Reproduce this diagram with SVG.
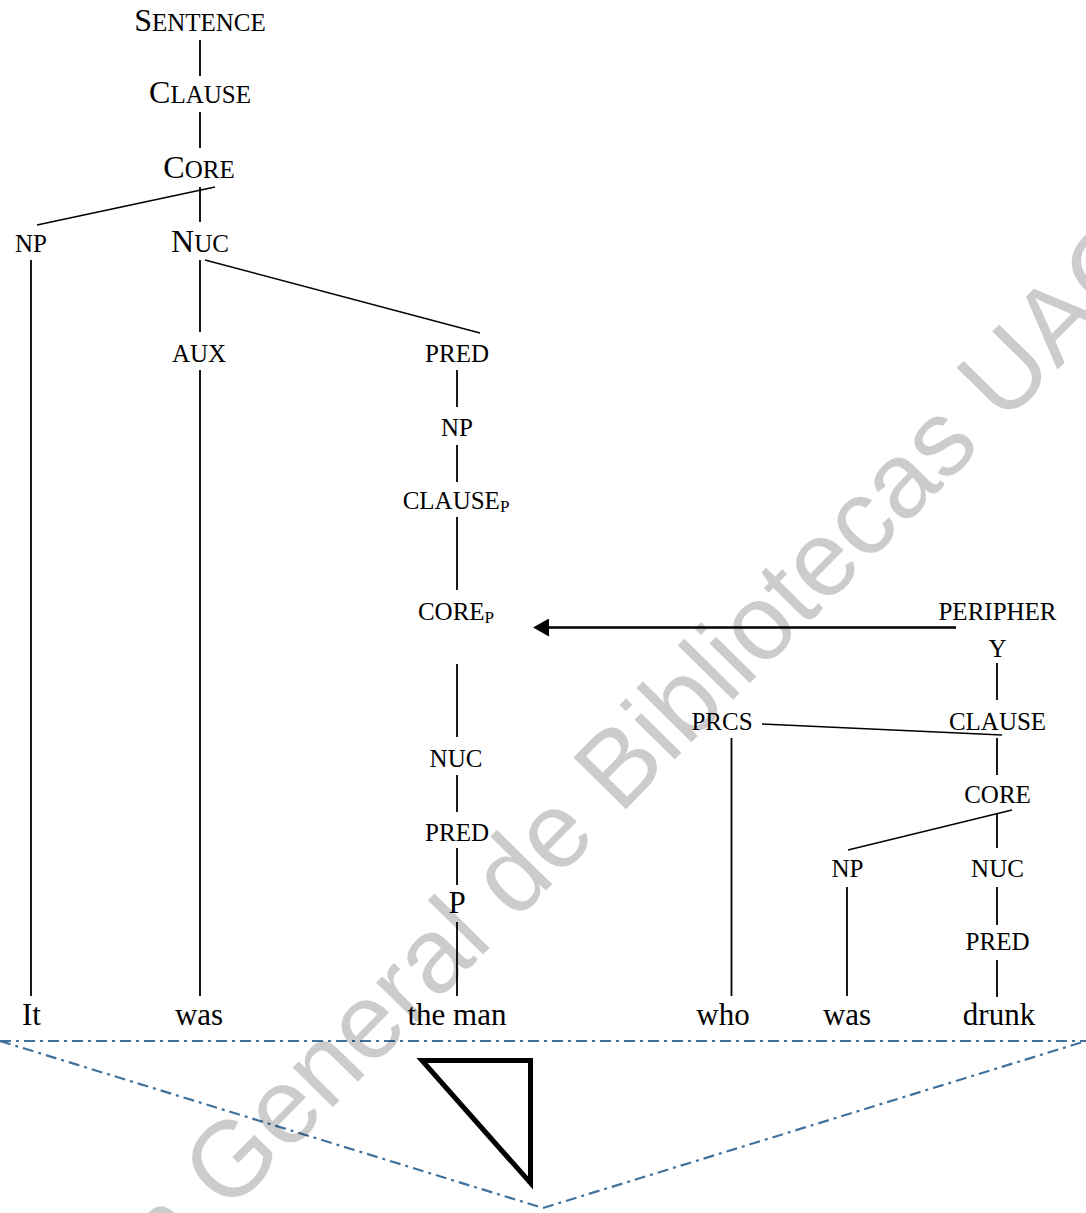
<svg xmlns="http://www.w3.org/2000/svg" width="1086" height="1213" viewBox="0 0 1086 1213">
  <style>
    .lbl { font-family: "Liberation Serif", "Times New Roman", serif; font-size: 25px; text-anchor: middle; fill: #000; }
    .big { font-size: 32px; }
    .word { font-size: 31px; }
    .sub { font-size: 17px; }
    .edge { stroke: #000; stroke-width: 1.8; fill: none; }
    .diag { stroke: #000; stroke-width: 1.4; fill: none; }
    .arrow { stroke: #000; stroke-width: 2.5; fill: none; }
    .frame { stroke: #41719C; stroke-width: 2.2; fill: none; stroke-dasharray: 11 5 3 5; }
    .wm { font-family: "Liberation Sans", Arial, sans-serif; font-size: 107px; fill: #000; fill-opacity: 0.2; }
  </style>
  <defs>
    <marker id="ah" markerUnits="userSpaceOnUse" markerWidth="16" markerHeight="18" refX="4" refY="9" orient="auto">
      <path d="M0,0 L16,9 L0,18 Z" fill="#000"/>
    </marker>
  </defs>
  <rect x="0" y="0" width="1086" height="1213" fill="#fff"/>

  <!-- connectors -->
  <g id="connectors">
    <line class="edge" x1="200" y1="40" x2="200" y2="76"/>
    <line class="edge" x1="200" y1="112" x2="200" y2="148"/>
    <line class="edge" x1="200" y1="187" x2="200" y2="222"/>
    <line class="diag" x1="215" y1="187" x2="37" y2="225"/>
    <line class="edge" x1="31" y1="260" x2="31" y2="996"/>
    <line class="edge" x1="200" y1="260" x2="200" y2="332"/>
    <line class="diag" x1="205" y1="260" x2="480" y2="333"/>
    <line class="edge" x1="200" y1="370" x2="200" y2="996"/>
    <line class="edge" x1="457" y1="370" x2="457" y2="407"/>
    <line class="edge" x1="457" y1="445" x2="457" y2="482"/>
    <line class="edge" x1="457" y1="517" x2="457" y2="590"/>
    <line class="edge" x1="457" y1="664" x2="457" y2="737"/>
    <line class="edge" x1="457" y1="775" x2="457" y2="812"/>
    <line class="edge" x1="457" y1="848" x2="457" y2="885"/>
    <line class="edge" x1="457" y1="922" x2="457" y2="996"/>
    <line class="arrow" x1="956" y1="627.5" x2="545" y2="627.5" marker-end="url(#ah)"/>
    <line class="edge" x1="997" y1="663" x2="997" y2="700"/>
    <line class="diag" x1="762" y1="724" x2="1002" y2="735"/>
    <line class="edge" x1="997" y1="738" x2="997" y2="775"/>
    <line class="diag" x1="1012" y1="810" x2="848" y2="850"/>
    <line class="edge" x1="997" y1="813" x2="997" y2="848"/>
    <line class="edge" x1="731.5" y1="738" x2="731.5" y2="996"/>
    <line class="edge" x1="847" y1="887" x2="847" y2="996"/>
    <line class="edge" x1="997" y1="887" x2="997" y2="925"/>
    <line class="edge" x1="997" y1="960" x2="997" y2="997"/>
  </g>

  <!-- left tree -->
  <g id="n-sentence"><text class="lbl" x="200" y="31"><tspan class="big">S</tspan>ENTENCE</text></g>
  <g id="n-clause"><text class="lbl" x="200" y="103"><tspan class="big">C</tspan>LAUSE</text></g>
  <g id="n-core"><text class="lbl" x="199" y="178"><tspan class="big">C</tspan>ORE</text></g>
  <g id="n-np1"><text class="lbl" x="31" y="252">NP</text></g>
  <g id="n-nuc"><text class="lbl" x="200" y="251.5"><tspan class="big">N</tspan>UC</text></g>
  <g id="n-aux"><text class="lbl" x="199" y="362">AUX</text></g>
  <g id="n-pred1"><text class="lbl" x="457" y="362">PRED</text></g>
  <g id="n-np2"><text class="lbl" x="457" y="436">NP</text></g>
  <g id="n-clausep"><text class="lbl" x="456" y="509">CLAUSE<tspan class="sub" dy="3">P</tspan></text></g>
  <g id="n-corep"><text class="lbl" x="456" y="620">CORE<tspan class="sub" dy="3">P</tspan></text></g>
  <g id="n-nuc2"><text class="lbl" x="456" y="767">NUC</text></g>
  <g id="n-pred2"><text class="lbl" x="457" y="841">PRED</text></g>
  <g id="n-p"><text class="lbl word" x="457" y="913">P</text></g>

  <!-- right tree -->
  <g id="n-periphery">
    <text class="lbl" x="997.5" y="620">PERIPHER</text>
    <text class="lbl" x="997.5" y="657">Y</text>
  </g>
  <g id="n-prcs"><text class="lbl" x="722" y="730">PRCS</text></g>
  <g id="n-clause2"><text class="lbl" x="997.5" y="730">CLAUSE</text></g>
  <g id="n-core2"><text class="lbl" x="997.5" y="803">CORE</text></g>
  <g id="n-np3"><text class="lbl" x="847.5" y="877">NP</text></g>
  <g id="n-nuc3"><text class="lbl" x="997.5" y="877">NUC</text></g>
  <g id="n-pred3"><text class="lbl" x="997.5" y="950">PRED</text></g>

  <!-- words -->
  <g id="w-it"><text class="lbl word" x="31.5" y="1025">It</text></g>
  <g id="w-was1"><text class="lbl word" x="199" y="1025">was</text></g>
  <g id="w-theman"><text class="lbl word" x="457" y="1025">the man</text></g>
  <g id="w-who"><text class="lbl word" x="723" y="1025">who</text></g>
  <g id="w-was2"><text class="lbl word" x="847" y="1025">was</text></g>
  <g id="w-drunk"><text class="lbl word" x="999" y="1025">drunk</text></g>

  <!-- bottom frame and triangle -->
  <g id="frame">
    <line class="frame" x1="0" y1="1041" x2="1086" y2="1041"/>
    <line class="frame" x1="0" y1="1041" x2="543" y2="1208"/>
    <line class="frame" x1="543" y1="1208" x2="1086" y2="1041"/>
  </g>
  <g id="triangle">
    <polygon points="422,1060.5 530.5,1060.5 530.5,1183" fill="none" stroke="#000" stroke-width="5" stroke-linejoin="miter"/>
  </g>

  <!-- watermark -->
  <text class="wm" transform="translate(228,1214) rotate(-45.5)" x="-476" y="0">Dirección General de Bibliotecas UAQ</text>
</svg>
